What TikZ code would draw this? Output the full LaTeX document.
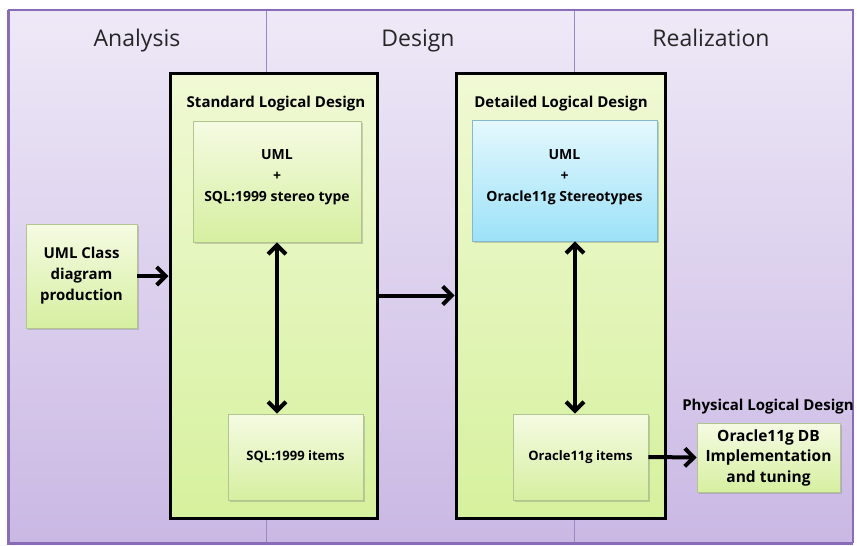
\documentclass[tikz,border=0pt]{standalone}
\usepackage{fontspec}
\setmainfont{Open Sans}
\usepackage{xcolor}
\usetikzlibrary{arrows.meta,shadows,positioning}
\definecolor{frame}{HTML}{8A6BB5}
\definecolor{bgtop}{HTML}{EEE9F7}
\definecolor{bgbot}{HTML}{CAB8E4}
\definecolor{divider}{HTML}{9C88C0}
\definecolor{greentop}{HTML}{F5FBE3}
\definecolor{greenbot}{HTML}{D6EFA0}
\definecolor{greenedge}{HTML}{B3C58E}
\definecolor{stagetop}{HTML}{F0F9D4}
\definecolor{stagebot}{HTML}{D6F19E}
\definecolor{bluetop}{HTML}{E5F8FD}
\definecolor{bluebot}{HTML}{9CE2F8}
\definecolor{blueedge}{HTML}{84B9CD}
\tikzset{
  phase/.style={font=\fontsize{23}{26}\selectfont, text=black!85, text height=17pt, text depth=6pt},
  stage/.style={draw=black, line width=3pt, top color=stagetop, bottom color=stagebot, inner sep=0pt},
  title/.style={font=\bfseries\fontsize{15}{17}\selectfont, inner sep=0pt},
  gbox/.style={draw=greenedge, line width=0.8pt, top color=greentop, bottom color=greenbot,
    drop shadow={shadow xshift=1.5pt, shadow yshift=-1.5pt, opacity=0.35}, inner sep=0pt},
  bbox/.style={gbox, draw=blueedge, top color=bluetop, bottom color=bluebot},
  btxt/.style={font=\bfseries\fontsize{14}{21}\selectfont, align=center, inner sep=0pt},
  stxt/.style={font=\bfseries\fontsize{13}{15}\selectfont, align=center},
  arr/.style={line width=4pt, -{Straight Barb[length=9pt,width=18pt]}},
  darr/.style={line width=4pt, {Straight Barb[length=9pt,width=18pt]}-{Straight Barb[length=9pt,width=18pt]}},
}
\begin{document}
\begin{tikzpicture}[x=1pt, y=-1pt]
  \useasboundingbox (0,0) rectangle (857,546);
  % background and phase columns
  \fill[top color=bgtop, bottom color=bgbot] (8,10) rectangle (853,543);
  \draw[divider, line width=0.8pt] (266,10) -- (266,543);
  \draw[divider, line width=0.8pt] (574,10) -- (574,543);
  \draw[frame, line width=1.2pt] (8,10) -- (853,10) -- (853,543);
  \draw[frame, line width=3pt] (8,10) -- (8,543) -- (853,543);
  \node[phase] (analysis) at (137,41) {Analysis};
  \node[phase] (design) at (418,41) {Design};
  \node[phase] (realization) at (711,41) {Realization};

  % standard logical design
  \node[stage, minimum width=207, minimum height=445] (std) at (273.5,295.5) {};
  \node[title] (stdtitle) at (276,104) {Standard Logical Design};
  \node[gbox, minimum width=168, minimum height=121] (umlsql) at (277,181.5) {};
  \node[btxt] (umlsqltxt) at (277,177.5) {UML\\+\\SQL:1999 stereo type};
  \node[gbox, stxt, minimum width=135, minimum height=86] (sqlitems) at (295.5,457) {SQL:1999 items};

  % detailed logical design
  \node[stage, minimum width=209, minimum height=445] (det) at (560.5,295.5) {};
  \node[title] (dettitle) at (561,104) {Detailed Logical Design};
  \node[bbox, minimum width=185, minimum height=121] (umlora) at (564.5,180.5) {};
  \node[btxt] (umloratxt) at (564.5,177.5) {UML\\+\\Oracle11g Stereotypes};
  \node[gbox, stxt, minimum width=135, minimum height=86] (oraitems) at (580.5,457) {Oracle11g items};

  % analysis and physical design
  \node[gbox, btxt, font=\bfseries\fontsize{15}{21}\selectfont, minimum width=111, minimum height=104] (umlclass) at (81.5,276) {UML Class\\diagram\\production};
  \node[gbox, btxt, font=\bfseries\fontsize{15.5}{20.5}\selectfont, minimum width=143, minimum height=69] (physical) at (768.5,457.5) {Oracle11g DB\\Implementation\\and tuning};
  \node[title] (phystitle) at (768,407) {Physical Logical Design};

  % connectors
  \draw[arr] (umlclass.east) -- (umlclass.east -| std.west);
  \draw[arr] (std.east) -- (det.west);
  \draw[darr] (umlsql.south) -- (umlsql.south |- sqlitems.north);
  \coordinate (oratop) at ([xshift=10.5pt]umlora.south);
  \draw[darr] (oratop) -- (oratop |- oraitems.north);
  \draw[arr] (oraitems.east) -- (physical.west);
\end{tikzpicture}
\end{document}
